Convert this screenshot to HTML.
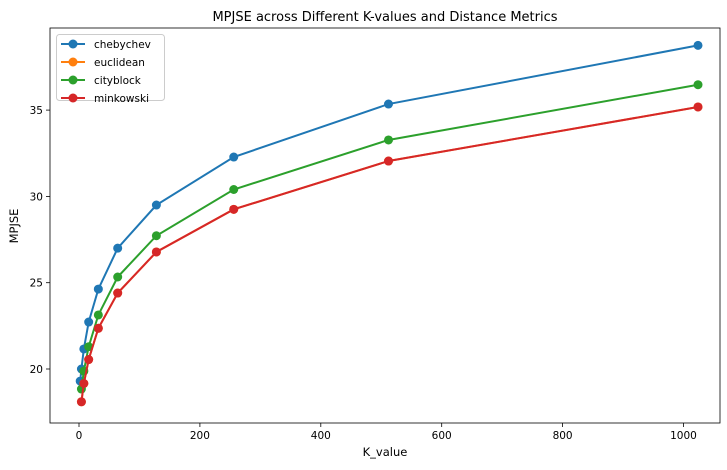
<!DOCTYPE html>
<html><head><meta charset="utf-8"><style>
body{margin:0;background:#fff;font-family:"Liberation Sans","DejaVu Sans",sans-serif}
svg text{font-family:"DejaVu Sans","Liberation Sans",sans-serif;fill:#000}
</style></head><body>
<svg id="chart" width="727" height="465" xmlns="http://www.w3.org/2000/svg">
<text x="385" y="21" font-size="13" text-anchor="middle">MPJSE across Different K-values and Distance Metrics</text>
<g id="plot"></g>
<text x="385" y="456" font-size="11.5" text-anchor="middle">K_value</text>
<text transform="translate(18,226) rotate(-90)" font-size="11.5" text-anchor="middle">MPJSE</text>
</svg>
<script>
const xTicks=[0,200,400,600,800,1000];
const yTicks=[20,25,30,35];
const kCheb=[2,4,8,16,32,64,128,256,512,1024];
const kOther=[4,8,16,32,64,128,256,512,1024];
const chebychev=[19.3,20.0,21.16,22.72,24.63,27.0,29.5,32.28,35.35,38.75];
const euclidean=[18.1,19.16,20.55,22.36,24.4,26.78,29.25,32.05,35.18];
const cityblock=[18.84,19.88,21.29,23.13,25.33,27.72,30.4,33.27,36.47];
const minkowski=[18.1,19.16,20.55,22.36,24.4,26.78,29.25,32.05,35.18];
const L=50,R=720,T=28,B=423;
const xs=v=>79+v*0.6045;
const ys=v=>369-(v-20)*17.26;
const NS="http://www.w3.org/2000/svg";
const g=document.getElementById('plot');
function mk(t,a){const e=document.createElementNS(NS,t);for(const k in a)e.setAttribute(k,a[k]);g.appendChild(e);return e;}
xTicks.forEach(v=>{
 const l=mk('line',{x1:xs(v),x2:xs(v),y1:B,y2:B+4,stroke:'#000','stroke-width':0.8});
 
 
 const t=mk('text',{x:xs(v),y:B+16,'font-size':10.5,'text-anchor':'middle'});t.textContent=v;
 
 
});
yTicks.forEach(v=>{
 const l=mk('line',{x1:L-4,x2:L,y1:ys(v),y2:ys(v),stroke:'#000','stroke-width':0.8});
 
 
 const t=mk('text',{x:L-7,y:ys(v)+4,'font-size':10.5,'text-anchor':'end'});t.textContent=v;
 
 
});
const series=[['chebychev',kCheb,chebychev,'#1f77b4'],['euclidean',kOther,euclidean,'#ff7f0e'],['cityblock',kOther,cityblock,'#2ca02c'],['minkowski',kOther,minkowski,'#d62728']];
series.forEach(([n,ks,vs,c])=>{
 const p=mk('polyline',{points:ks.map((k,i)=>xs(k)+','+ys(vs[i])).join(' '),fill:'none',stroke:c,'stroke-width':2});
 
 
 ks.forEach((k,i)=>{const d=mk('circle',{cx:xs(k),cy:ys(vs[i]),r:4.5,fill:c});
  
  });
});
const f=mk('rect',{x:L,y:T,width:R-L,height:B-T,fill:'none',stroke:'#000','stroke-width':0.8});


const lg=mk('rect',{x:56.5,y:34.5,width:108,height:66,rx:3,fill:'#fff','fill-opacity':0.8,stroke:'#ccc'});


series.forEach(([n,ks,vs,c],i)=>{
 const y=44+i*18;
 const l=mk('line',{x1:61,x2:85,y1:y,y2:y,stroke:c,'stroke-width':2});
 
 
 const d=mk('circle',{cx:73,cy:y,r:4.5,fill:c});
 
 
 const t=mk('text',{x:94,y:y+4,'font-size':10.5});t.textContent=n;
 
 
});
</script>
</body></html>
